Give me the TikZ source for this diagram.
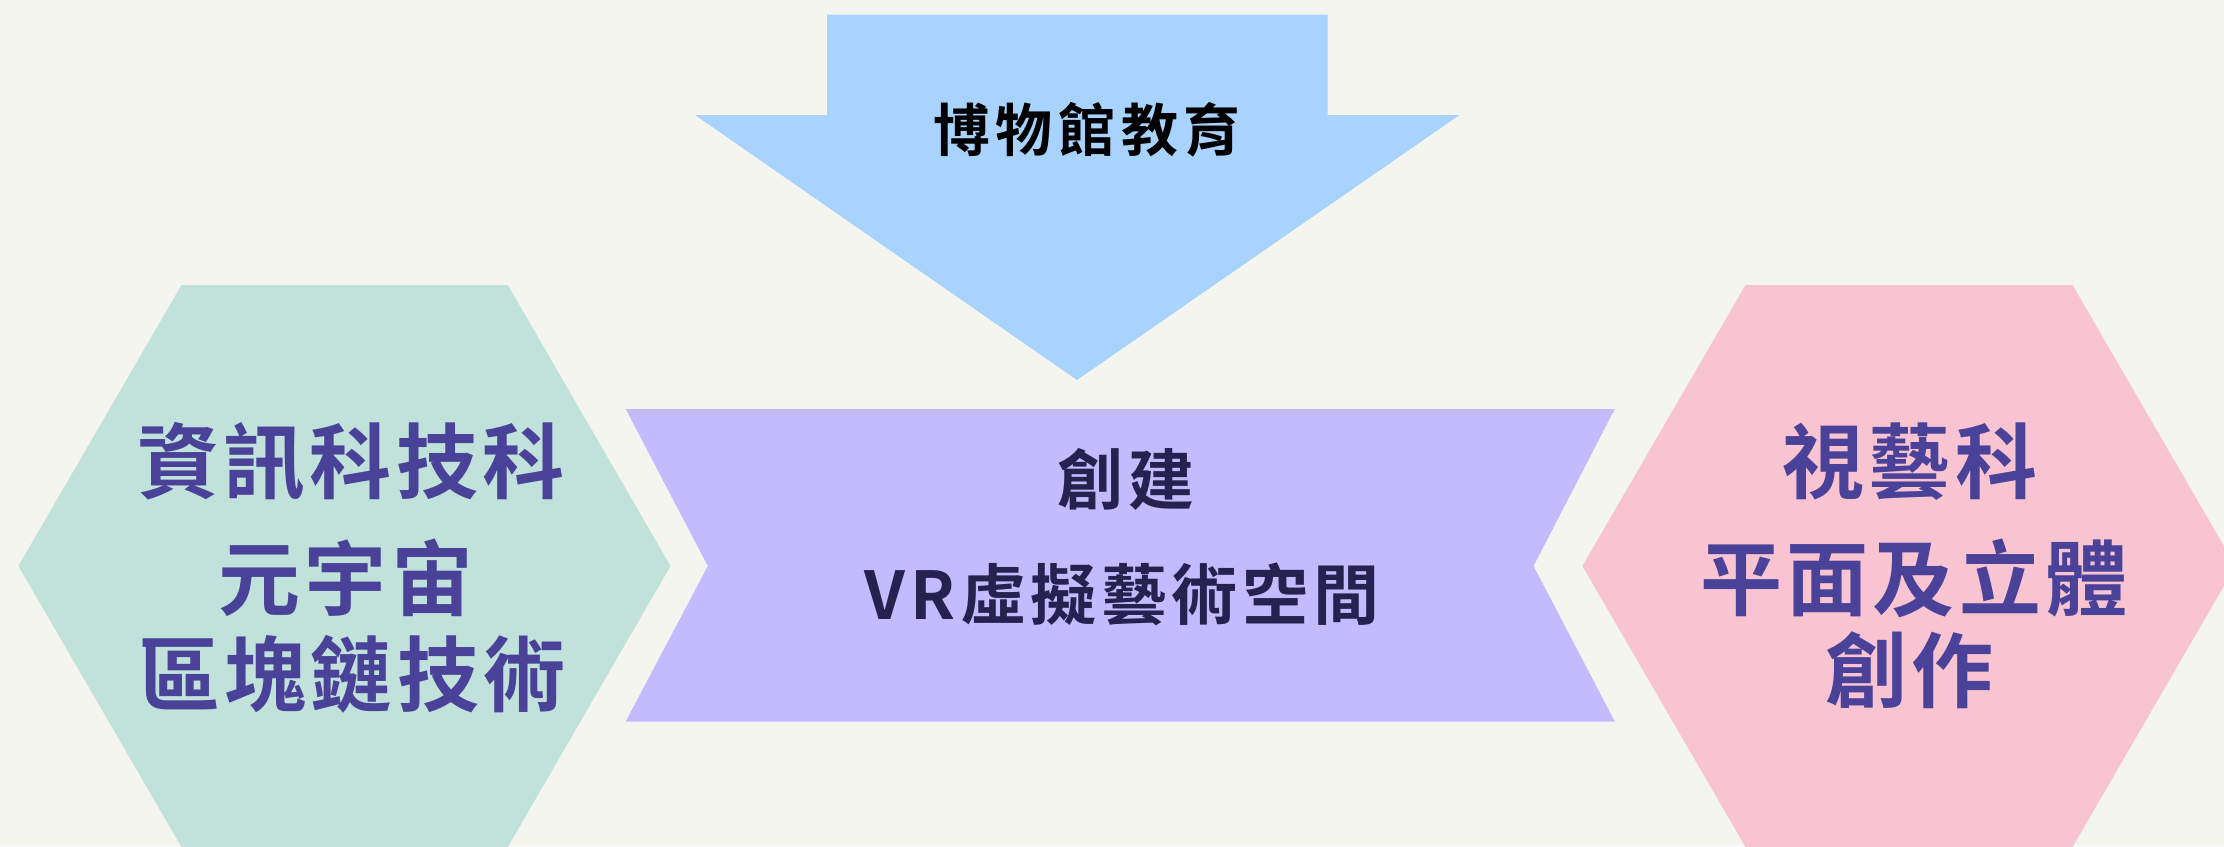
\documentclass[tikz,border=0pt]{standalone}
\usepackage{fontspec}
\setmainfont{Noto Sans CJK TC}[BoldFont=* Bold]
\definecolor{bgc}{HTML}{F4F5EF}
\definecolor{bluec}{HTML}{A7D3FE}
\definecolor{greenc}{HTML}{C0E2DB}
\definecolor{lavc}{HTML}{C4BBFE}
\definecolor{pinkc}{HTML}{F9C4D1}
\definecolor{purpt}{HTML}{4A4199}
\definecolor{navyt}{HTML}{25224F}
\tikzset{
  lbl/.style={inner sep=0pt, anchor=center},
  side/.style={lbl, text=purpt, font=\bfseries\fontsize{82}{90}\selectfont\addfontfeature{LetterSpace=5}},
  mid/.style={lbl, text=navyt, font=\bfseries\fontsize{66}{74}\selectfont\addfontfeature{LetterSpace=7}},
  topl/.style={lbl, text=black, font=\bfseries\fontsize{57}{64}\selectfont\addfontfeature{LetterSpace=10}}
}
\begin{document}
\begin{tikzpicture}[x=1pt,y=-1pt]
\useasboundingbox (0,0) rectangle (2224,846);
\fill[bgc] (0,0) rectangle (2224,846);
\clip (0,0) rectangle (2224,846);
% top arrow
\fill[bluec] (827,14.5) -- (1327.5,14.5) -- (1327.5,115) -- (1459.5,115) -- (1077,380) -- (695,115) -- (827,115) -- cycle;
% left hexagon
\fill[greenc] (181.5,285) -- (507.8,285) -- (670.5,566) -- (507.8,847) -- (181.5,847) -- (18.4,566) -- cycle;
% right hexagon
\fill[pinkc] (1745.5,285) -- (2072.5,285) -- (2235.5,566) -- (2072.5,847) -- (1745.5,847) -- (1582.4,566) -- cycle;
% middle ribbon
\fill[lavc] (625.7,409) -- (1614.8,409) -- (1533.5,566) -- (1614.8,721.5) -- (625.7,721.5) -- (707.8,566) -- cycle;
% texts
\node[topl] (edu) at (1087,130) {博物館教育};
\node[side] (g1) at (351,462) {資訊科技科};
\node[side] (g2) at (346,578) {元宇宙};
\node[side] (g3) at (352,674) {區塊鏈技術};
\node[side] (p1) at (1910,462) {視藝科};
\node[side] (p2) at (1914,578) {平面及立體};
\node[side] (p3) at (1910,670) {創作};
\node[mid] (m1) at (1126,479) {創建};
\node[mid] (m2) at (1122,594) {VR虛擬藝術空間};
\end{tikzpicture}
\end{document}
